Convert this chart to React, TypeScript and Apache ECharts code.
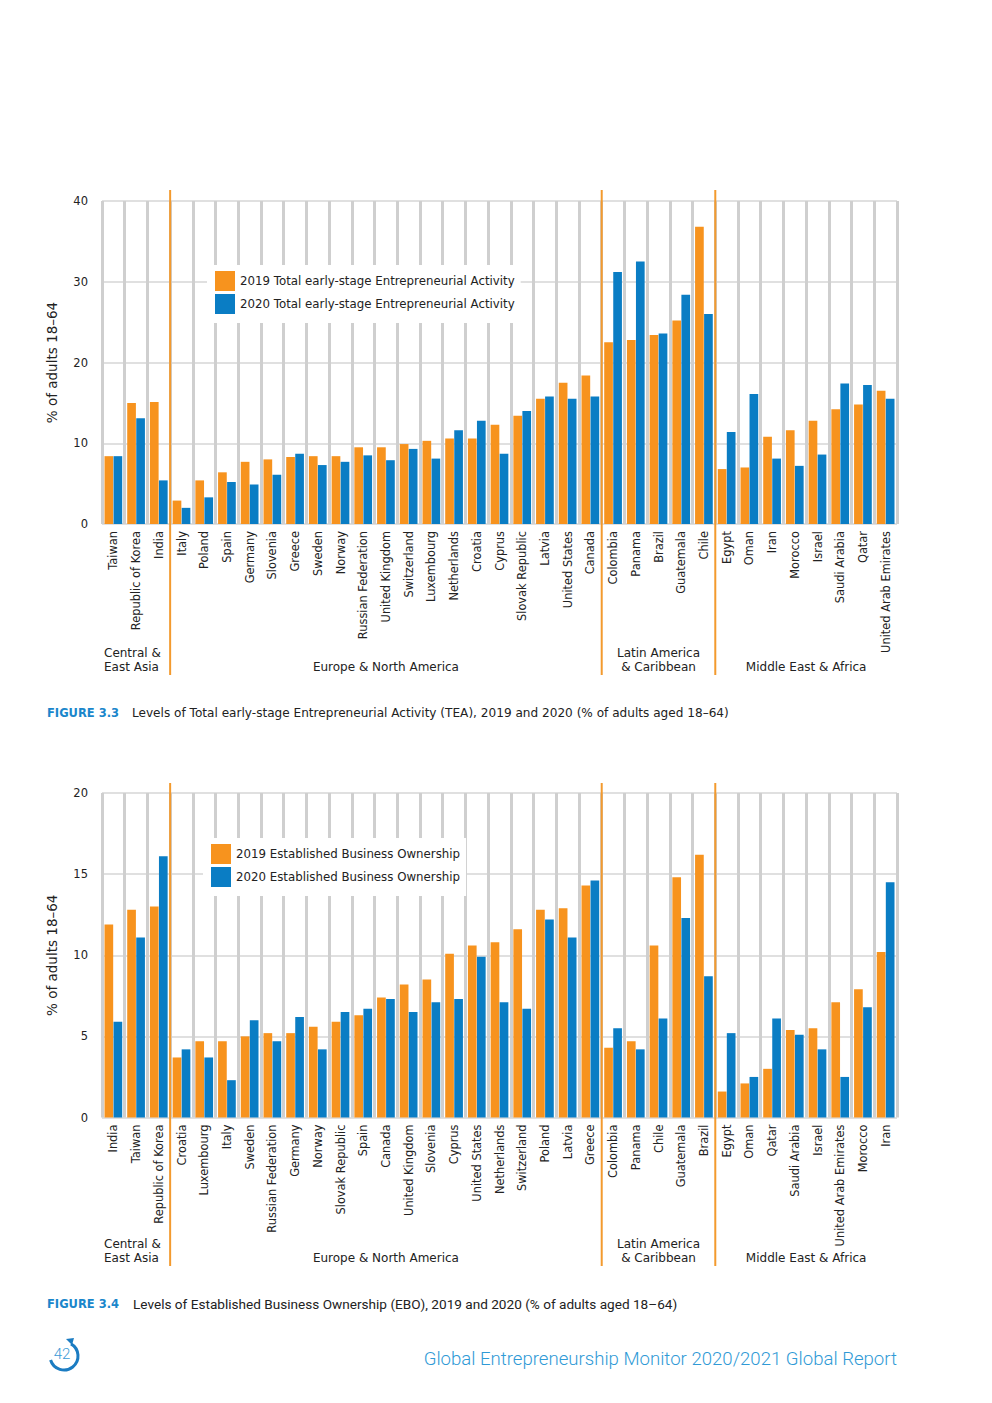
import React, { useEffect, useRef } from 'react';
import * as echarts from 'echarts';

// ---------- DATA ----------
const teaCategories = [
  'Taiwan', 'Republic of Korea', 'India',
  'Italy', 'Poland', 'Spain', 'Germany', 'Slovenia', 'Greece', 'Sweden', 'Norway',
  'Russian Federation', 'United Kingdom', 'Switzerland', 'Luxembourg', 'Netherlands',
  'Croatia', 'Cyprus', 'Slovak Republic', 'Latvia', 'United States', 'Canada',
  'Colombia', 'Panama', 'Brazil', 'Guatemala', 'Chile',
  'Egypt', 'Oman', 'Iran', 'Morocco', 'Israel', 'Saudi Arabia', 'Qatar', 'United Arab Emirates',
];
const tea2019 = [
  8.4, 15.0, 15.1,
  2.9, 5.4, 6.4, 7.7, 8.0, 8.3, 8.4, 8.4, 9.5, 9.5, 9.9, 10.3, 10.6, 10.6, 12.3, 13.4, 15.5, 17.5, 18.4,
  22.5, 22.8, 23.4, 25.2, 36.8,
  6.8, 7.0, 10.8, 11.6, 12.8, 14.2, 14.8, 16.5,
];
const tea2020 = [
  8.4, 13.1, 5.4,
  2.0, 3.3, 5.2, 4.9, 6.1, 8.7, 7.3, 7.7, 8.5, 7.9, 9.3, 8.1, 11.6, 12.8, 8.7, 14.0, 15.8, 15.5, 15.8,
  31.2, 32.5, 23.6, 28.4, 26.0,
  11.4, 16.1, 8.1, 7.2, 8.6, 17.4, 17.2, 15.5,
];

const eboCategories = [
  'India', 'Taiwan', 'Republic of Korea',
  'Croatia', 'Luxembourg', 'Italy', 'Sweden', 'Russian Federation', 'Germany', 'Norway',
  'Slovak Republic', 'Spain', 'Canada', 'United Kingdom', 'Slovenia', 'Cyprus',
  'United States', 'Netherlands', 'Switzerland', 'Poland', 'Latvia', 'Greece',
  'Colombia', 'Panama', 'Chile', 'Guatemala', 'Brazil',
  'Egypt', 'Oman', 'Qatar', 'Saudi Arabia', 'Israel', 'United Arab Emirates', 'Morocco', 'Iran',
];
const ebo2019 = [
  11.9, 12.8, 13.0,
  3.7, 4.7, 4.7, 5.0, 5.2, 5.2, 5.6, 5.9, 6.3, 7.4, 8.2, 8.5, 10.1, 10.6, 10.8, 11.6, 12.8, 12.9, 14.3,
  4.3, 4.7, 10.6, 14.8, 16.2,
  1.6, 2.1, 3.0, 5.4, 5.5, 7.1, 7.9, 10.2,
];
const ebo2020 = [
  5.9, 11.1, 16.1,
  4.2, 3.7, 2.3, 6.0, 4.7, 6.2, 4.2, 6.5, 6.7, 7.3, 6.5, 7.1, 7.3, 9.9, 7.1, 6.7, 12.2, 11.1, 14.6,
  5.5, 4.2, 6.1, 12.3, 8.7,
  5.2, 2.5, 6.1, 5.1, 4.2, 2.5, 6.8, 14.5,
];

const groupNames = ['Central &\nEast Asia', 'Europe & North America', 'Latin America\n& Caribbean', 'Middle East & Africa'];
const groupSizes = [3, 19, 5, 8];

const teaSeriesNames = ['2019 Total early-stage Entrepreneurial Activity', '2020 Total early-stage Entrepreneurial Activity'];
const eboSeriesNames = ['2019 Established Business Ownership', '2020 Established Business Ownership'];

const yAxisTitle = '% of adults 18–64';
const teaTicks = { max: 40, interval: 10 };
const eboTicks = { max: 20, interval: 5 };

const captionTEA = 'Levels of Total early-stage Entrepreneurial Activity (TEA), 2019 and 2020 (% of adults aged 18–64)';
const captionEBO = 'Levels of Established Business Ownership (EBO), 2019 and 2020 (% of adults aged 18–64)';
const footerText = 'Global Entrepreneurship Monitor 2020/2021 Global Report';
const pageNumber = '42';

// ---------- STYLE ----------
const FONT = '"DejaVu Sans", sans-serif';
const ORANGE = '#F7931E';
const BLUE = '#0A7DC4';
const SEP = '#F39A2E';
const TXT = '#222222';

export default function App() {
  const ref = useRef<HTMLDivElement>(null);

  useEffect(() => {
    const chart = echarts.init(ref.current as HTMLDivElement, null, { renderer: 'svg' });

    const grids = [
      { left: 102, width: 795, top: 201, height: 323 },
      { left: 102, width: 795, top: 793, height: 324.5 },
    ];

    const xAxis = (cats: string[], gridIndex: number) => ({
      type: 'category',
      gridIndex,
      data: cats,
      axisLine: { show: false },
      axisTick: { show: false },
      splitLine: { show: true, lineStyle: { color: '#cfcfcf', width: 3 } },
      axisLabel: {
        rotate: 90,
        interval: 0,
        margin: 7,
        fontSize: 11.4,
        color: TXT,
        fontFamily: FONT,
      },
    });

    const yAxis = (gridIndex: number, t: { max: number; interval: number }) => ({
      type: 'value',
      gridIndex,
      min: 0,
      max: t.max,
      interval: t.interval,
      name: yAxisTitle,
      nameLocation: 'middle',
      nameGap: 43,
      nameTextStyle: { fontSize: 13.5, color: TXT, fontFamily: FONT },
      axisLine: { show: false },
      axisTick: { show: false },
      axisLabel: { fontSize: 11.5, color: TXT, fontFamily: FONT, margin: 14 },
      splitLine: { show: true, lineStyle: { color: '#d6d6d6', width: 1.5 } },
    });

    const bar = (name: string, data: number[], idx: number, color: string) => ({
      type: 'bar',
      name,
      data,
      xAxisIndex: idx,
      yAxisIndex: idx,
      barGap: '4%',
      barCategoryGap: '22%',
      itemStyle: { color },
      emphasis: { disabled: true },
    });

    const legend = (names: string[], left: number, top: number) => ({
      data: names,
      left,
      top,
      orient: 'vertical',
      backgroundColor: '#ffffff',
      padding: [6, 6, 9, 8],
      itemWidth: 20,
      itemHeight: 20,
      itemGap: 3,
      icon: 'rect',
      selectedMode: false,
      textStyle: { fontSize: 11.8, color: TXT, fontFamily: FONT },
    });

    chart.setOption({
      animation: false,
      grid: grids,
      xAxis: [xAxis(teaCategories, 0), xAxis(eboCategories, 1)],
      yAxis: [yAxis(0, teaTicks), yAxis(1, eboTicks)],
      legend: [legend(teaSeriesNames, 207, 265), legend(eboSeriesNames, 203, 838)],
      series: [
        bar(teaSeriesNames[0], tea2019, 0, ORANGE),
        bar(teaSeriesNames[1], tea2020, 0, BLUE),
        bar(eboSeriesNames[0], ebo2019, 1, ORANGE),
        bar(eboSeriesNames[1], ebo2020, 1, BLUE),
      ],
    });

    const graphics: any[] = [];
    const txt = (text: string, x: number, y: number, opts: any = {}) => ({
      type: 'text',
      x,
      y,
      z: 10,
      style: {
        text,
        fill: opts.fill || TXT,
        fontSize: opts.fontSize || 12,
        fontFamily: opts.fontFamily || FONT,
        fontWeight: opts.fontWeight || 'normal',
        lineHeight: opts.lineHeight || 14,
        align: opts.align || 'left',
        textAlign: opts.align || 'left',
        verticalAlign: opts.verticalAlign || 'middle',
        textVerticalAlign: opts.verticalAlign || 'middle',
      },
    });

    const buildGroups = (axisIndex: number, cats: string[], lineTop: number, lineBottom: number, labelBottom: number) => {
      const px = (c: string) => chart.convertToPixel({ xAxisIndex: axisIndex }, c) as number;
      const half = (px(cats[1]) - px(cats[0])) / 2;
      let start = 0;
      groupSizes.forEach((size, g) => {
        const first = px(cats[start]) - half;
        const last = px(cats[start + size - 1]) + half;
        if (g < groupSizes.length - 1) {
          graphics.push({
            type: 'line',
            z: 10,
            shape: { x1: last, y1: lineTop, x2: last, y2: lineBottom },
            style: { stroke: SEP, lineWidth: 2 },
          });
        }
        if (g === 0) {
          graphics.push(txt(groupNames[g], first + 2, labelBottom, { verticalAlign: 'bottom' }));
        } else {
          graphics.push(txt(groupNames[g], (first + last) / 2, labelBottom, { align: 'center', verticalAlign: 'bottom' }));
        }
        start += size;
      });
    };

    buildGroups(0, teaCategories, 190, 675, 674);
    buildGroups(1, eboCategories, 783, 1266, 1265);

    // captions
    graphics.push(txt('FIGURE 3.3', 47, 713, { fill: '#1A86CB', fontWeight: 'bold', fontSize: 11.5 }));
    graphics.push(txt(captionTEA, 132, 713, { fontSize: 12.1 }));
    graphics.push(txt('FIGURE 3.4', 47, 1304, { fill: '#1A86CB', fontWeight: 'bold', fontSize: 11.5 }));
    graphics.push(txt(captionEBO, 133, 1304, { fontSize: 13.6, fontFamily: 'Roboto, sans-serif' }));

    // footer
    graphics.push(txt(footerText, 897, 1359, { fill: '#2F9AD6', fontSize: 18.6, fontFamily: 'Roboto, sans-serif', fontWeight: 300, align: 'right' }));
    graphics.push({
      type: 'arc',
      z: 10,
      shape: { cx: 64, cy: 1356, r: 14, startAngle: -1.05, endAngle: 2.85, clockwise: true },
      style: { stroke: '#1B7CC2', lineWidth: 3, fill: 'none' },
    });
    graphics.push({
      type: 'polygon',
      z: 10,
      shape: { points: [[66, 1339], [74, 1338], [72, 1345]] },
      style: { fill: '#1B7CC2' },
    });
    graphics.push(txt(pageNumber, 62, 1354, { fill: '#3A9AD6', fontSize: 15, fontFamily: 'Roboto, sans-serif', fontWeight: 300, align: 'center' }));

    chart.setOption({ graphic: graphics });

    return () => chart.dispose();
  }, []);

  return <div ref={ref} style={{ position: 'absolute', left: 0, top: 0, width: 992, height: 1403, background: '#ffffff' }} />;
}
